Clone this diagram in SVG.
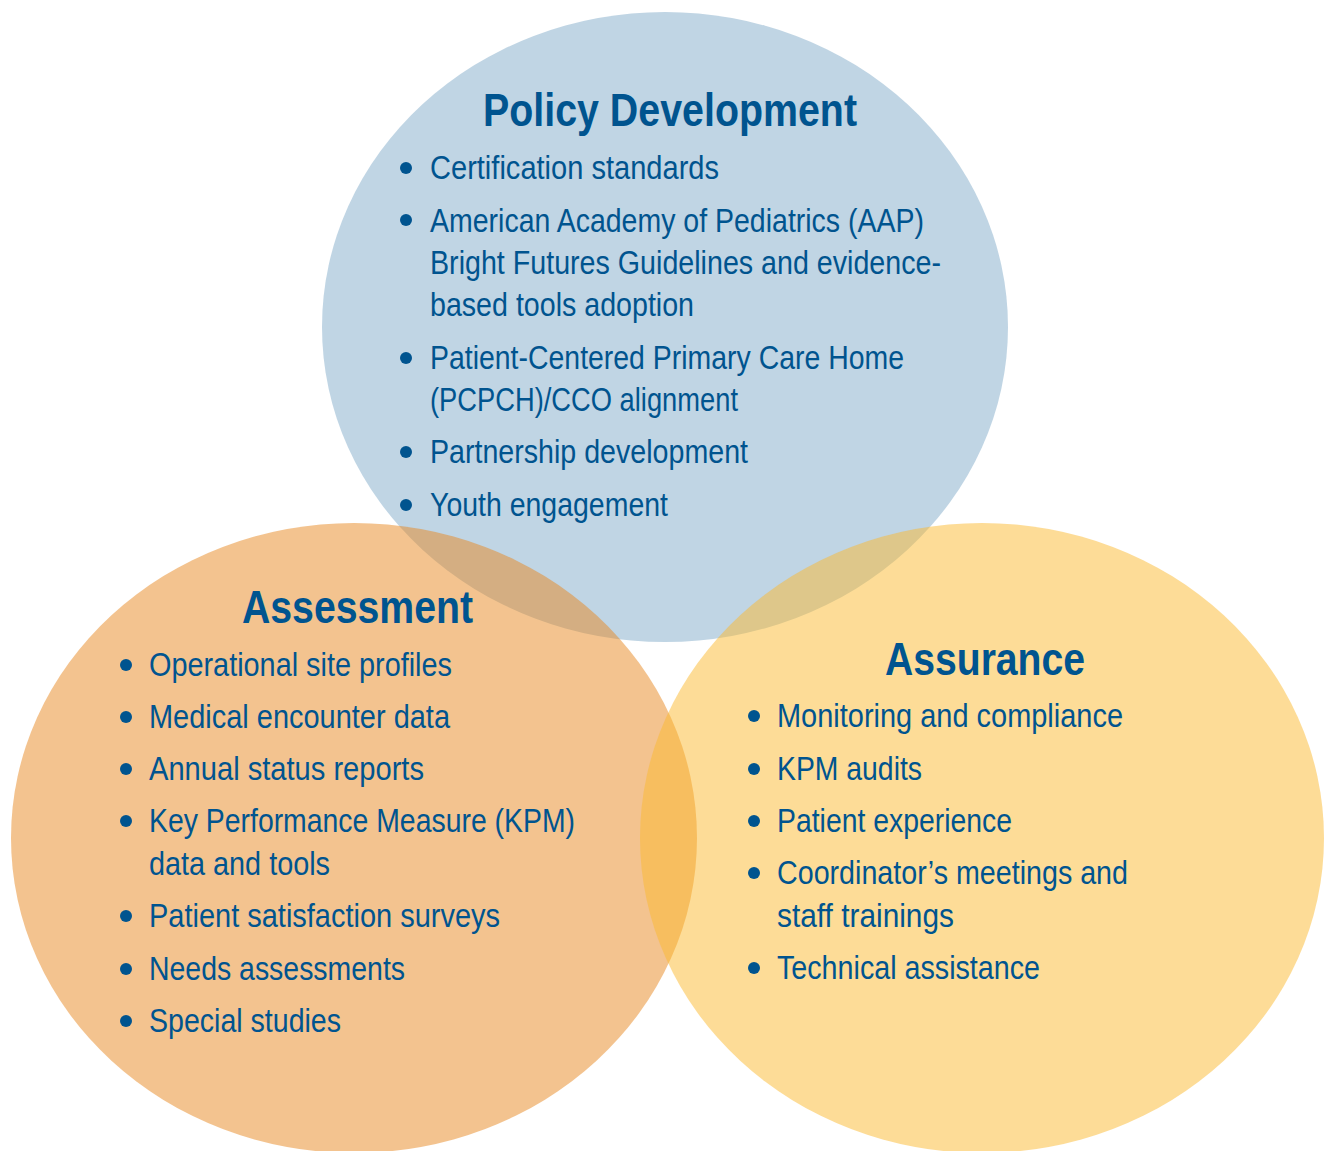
<svg xmlns="http://www.w3.org/2000/svg" width="1325" height="1151" viewBox="0 0 1325 1151">
<style>
.c{opacity:0.5}
.t{font-family:"Liberation Sans",Arial,sans-serif;font-size:33px;fill:#00548f}
.h{font-family:"Liberation Sans",Arial,sans-serif;font-size:46px;font-weight:bold;fill:#00548f}
.b{fill:#00548f}
</style>
<rect width="1325" height="1151" fill="#ffffff"/>
<g id="policy">
<ellipse class="c" cx="665" cy="327" rx="343" ry="315" fill="#81abc9"/>
</g>
<g id="assessment">
<ellipse class="c" cx="354" cy="838" rx="343" ry="315" fill="#e7871f"/>
</g>
<g id="assurance">
<ellipse class="c" cx="982" cy="838" rx="342" ry="315" fill="#fbb92f"/>
</g>
<g id="policy-text">
<text class="h" x="483" y="126" textLength="374" lengthAdjust="spacingAndGlyphs">Policy Development</text>
<circle class="b" cx="406" cy="168" r="6"/><text class="t" x="430" y="179" textLength="289" lengthAdjust="spacingAndGlyphs">Certification standards</text>
<circle class="b" cx="406" cy="220" r="6"/><text class="t" x="430" y="232" textLength="494" lengthAdjust="spacingAndGlyphs">American Academy of Pediatrics (AAP)</text>
<text class="t" x="430" y="274" textLength="511" lengthAdjust="spacingAndGlyphs">Bright Futures Guidelines and evidence-</text>
<text class="t" x="430" y="316" textLength="264" lengthAdjust="spacingAndGlyphs">based tools adoption</text>
<circle class="b" cx="406" cy="358" r="6"/><text class="t" x="430" y="369" textLength="474" lengthAdjust="spacingAndGlyphs">Patient-Centered Primary Care Home</text>
<text class="t" x="430" y="411" textLength="308" lengthAdjust="spacingAndGlyphs">(PCPCH)/CCO alignment</text>
<circle class="b" cx="406" cy="452" r="6"/><text class="t" x="430" y="463" textLength="318" lengthAdjust="spacingAndGlyphs">Partnership development</text>
<circle class="b" cx="406" cy="505" r="6"/><text class="t" x="430" y="516" textLength="238" lengthAdjust="spacingAndGlyphs">Youth engagement</text>
</g>
<g id="assessment-text">
<text class="h" x="242" y="623" textLength="231" lengthAdjust="spacingAndGlyphs">Assessment</text>
<circle class="b" cx="126" cy="665" r="6"/><text class="t" x="149" y="676" textLength="303" lengthAdjust="spacingAndGlyphs">Operational site profiles</text>
<circle class="b" cx="126" cy="717" r="6"/><text class="t" x="149" y="728" textLength="301" lengthAdjust="spacingAndGlyphs">Medical encounter data</text>
<circle class="b" cx="126" cy="769" r="6"/><text class="t" x="149" y="780" textLength="275" lengthAdjust="spacingAndGlyphs">Annual status reports</text>
<circle class="b" cx="126" cy="821" r="6"/><text class="t" x="149" y="832" textLength="426" lengthAdjust="spacingAndGlyphs">Key Performance Measure (KPM)</text>
<text class="t" x="149" y="875" textLength="181" lengthAdjust="spacingAndGlyphs">data and tools</text>
<circle class="b" cx="126" cy="916" r="6"/><text class="t" x="149" y="927" textLength="351" lengthAdjust="spacingAndGlyphs">Patient satisfaction surveys</text>
<circle class="b" cx="126" cy="969" r="6"/><text class="t" x="149" y="980" textLength="256" lengthAdjust="spacingAndGlyphs">Needs assessments</text>
<circle class="b" cx="126" cy="1021" r="6"/><text class="t" x="149" y="1032" textLength="192" lengthAdjust="spacingAndGlyphs">Special studies</text>
</g>
<g id="assurance-text">
<text class="h" x="885" y="675" textLength="200" lengthAdjust="spacingAndGlyphs">Assurance</text>
<circle class="b" cx="754" cy="716" r="6"/><text class="t" x="777" y="727" textLength="346" lengthAdjust="spacingAndGlyphs">Monitoring and compliance</text>
<circle class="b" cx="754" cy="769" r="6"/><text class="t" x="777" y="780" textLength="145" lengthAdjust="spacingAndGlyphs">KPM audits</text>
<circle class="b" cx="754" cy="821" r="6"/><text class="t" x="777" y="832" textLength="235" lengthAdjust="spacingAndGlyphs">Patient experience</text>
<circle class="b" cx="754" cy="873" r="6"/><text class="t" x="777" y="884" textLength="351" lengthAdjust="spacingAndGlyphs">Coordinator’s meetings and</text>
<text class="t" x="777" y="927" textLength="177" lengthAdjust="spacingAndGlyphs">staff trainings</text>
<circle class="b" cx="754" cy="968" r="6"/><text class="t" x="777" y="979" textLength="263" lengthAdjust="spacingAndGlyphs">Technical assistance</text>
</g>
<g id="connectors"></g>
</svg>
